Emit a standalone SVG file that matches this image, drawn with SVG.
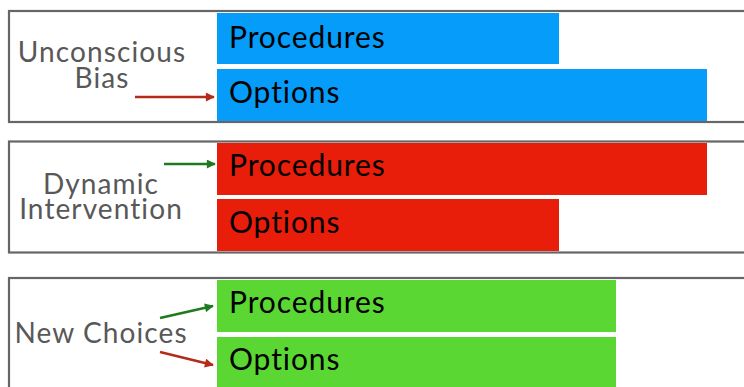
<svg xmlns="http://www.w3.org/2000/svg" width="744" height="387" viewBox="0 0 744 387">
<defs>
<style>
.frame{fill:#fff;stroke:#666;stroke-width:2.2}
.lbl{font-family:Lato,"Noto Sans",sans-serif;font-size:28px;letter-spacing:1.1px;fill:#585858;text-anchor:middle}
.bt{font-family:Lato,"Noto Sans",sans-serif;font-size:30px;letter-spacing:0.9px;fill:#000}
.blue{fill:#069cf9}
.red{fill:#e81d0a}
.green{fill:#5bd733}
.ar{stroke:#b52b1a;stroke-width:2.4;fill:none}
.ag{stroke:#1f7a1f;stroke-width:2.4;fill:none}
</style>
<marker id="mr" viewBox="0 0 10 10" refX="9" refY="5" markerWidth="10" markerHeight="9" markerUnits="userSpaceOnUse" orient="auto"><path d="M0,0 L10,5 L0,10 z" fill="#b52b1a"/></marker>
<marker id="mg" viewBox="0 0 10 10" refX="9" refY="5" markerWidth="10" markerHeight="9" markerUnits="userSpaceOnUse" orient="auto"><path d="M0,0 L10,5 L0,10 z" fill="#1f7a1f"/></marker>
</defs>
<rect width="744" height="387" fill="#fff"/>
<g id="box-unconscious">
<rect class="frame" x="9" y="11" width="760" height="111"/>
<text class="lbl" x="102" y="62">Unconscious</text>
<text class="lbl" x="102" y="88">Bias</text>
<rect class="blue" x="217" y="13" width="342" height="51"/>
<rect class="blue" x="217" y="69" width="490" height="52"/>
<text class="bt" x="229" y="48">Procedures</text>
<text class="bt" x="229" y="103">Options</text>
</g>
<g id="box-dynamic">
<rect class="frame" x="9" y="141.5" width="760" height="111"/>
<text class="lbl" x="101" y="194">Dynamic</text>
<text class="lbl" x="101" y="219">Intervention</text>
<rect class="red" x="217" y="143" width="490" height="52"/>
<rect class="red" x="217" y="199" width="342" height="52"/>
<text class="bt" x="229" y="176">Procedures</text>
<text class="bt" x="229" y="233">Options</text>
</g>
<g id="box-new-choices">
<rect class="frame" x="9" y="278" width="760" height="130"/>
<text class="lbl" x="101" y="343">New Choices</text>
<rect class="green" x="217" y="280" width="399" height="52"/>
<rect class="green" x="217" y="337" width="399" height="52"/>
<text class="bt" x="229" y="313">Procedures</text>
<text class="bt" x="229" y="370">Options</text>
</g>
<g id="connectors">
<line class="ar" x1="135" y1="97" x2="214" y2="97" marker-end="url(#mr)"/>
<line class="ag" x1="164" y1="164" x2="215" y2="164" marker-end="url(#mg)"/>
<line class="ag" x1="160" y1="318" x2="213" y2="306" marker-end="url(#mg)"/>
<line class="ar" x1="160" y1="352" x2="213" y2="365" marker-end="url(#mr)"/>
</g>
</svg>
